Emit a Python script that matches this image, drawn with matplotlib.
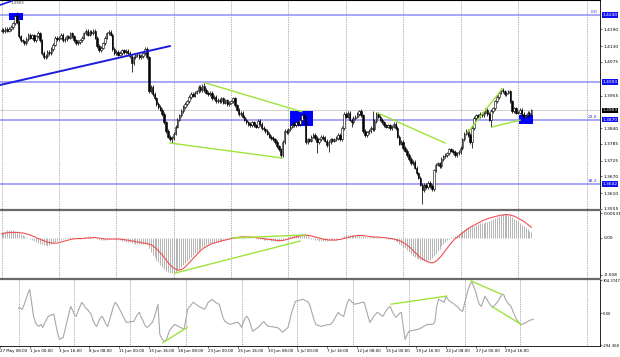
import numpy as np
import matplotlib.pyplot as plt

# GBPUSD H4 closes, 31 May - 3 Aug 2021, one row per trading day (6 bars)
first_bar = -6          # bar 0 = 1 Jun 00:00
first_open = 1.4185
closes = [
    1.4188, 1.4183, 1.4192, 1.4185, 1.4190, 1.4198,
    1.4210, 1.4235, 1.4215, 1.4165, 1.4150, 1.4147,
    1.4140, 1.4155, 1.4170, 1.4160, 1.4168, 1.4150,
    1.4165, 1.4175, 1.4150, 1.4105, 1.4090, 1.4095,
    1.4110, 1.4105, 1.4120, 1.4135, 1.4160, 1.4155,
    1.4160, 1.4170, 1.4150, 1.4155, 1.4165, 1.4160,
    1.4175, 1.4165, 1.4150, 1.4140, 1.4145, 1.4150,
    1.4160, 1.4175, 1.4185, 1.4170, 1.4180, 1.4175,
    1.4185, 1.4160, 1.4130, 1.4115, 1.4125, 1.4140,
    1.4160, 1.4175, 1.4180, 1.4170, 1.4120, 1.4105,
    1.4110, 1.4100, 1.4105, 1.4115, 1.4108, 1.4112,
    1.4105, 1.4095, 1.4070, 1.4090, 1.4100, 1.4098,
    1.4090, 1.4095, 1.4105, 1.4120, 1.4090, 1.3970,
    1.3985, 1.3960, 1.3945, 1.3925, 1.3915, 1.3905,
    1.3890, 1.3860, 1.3830, 1.3810, 1.3800, 1.3805,
    1.3820, 1.3845, 1.3870, 1.3885, 1.3900, 1.3915,
    1.3925, 1.3935, 1.3950, 1.3960, 1.3955, 1.3965,
    1.3970, 1.3985, 1.3975, 1.3990, 1.3975, 1.3965,
    1.3960, 1.3965, 1.3945, 1.3950, 1.3935, 1.3940,
    1.3935, 1.3945, 1.3930, 1.3938, 1.3925, 1.3930,
    1.3935, 1.3945, 1.3920, 1.3905, 1.3890, 1.3895,
    1.3880, 1.3870, 1.3860, 1.3855, 1.3850, 1.3860,
    1.3850, 1.3845, 1.3865, 1.3855, 1.3840, 1.3835,
    1.3830, 1.3820, 1.3810, 1.3805, 1.3800, 1.3790,
    1.3775, 1.3765, 1.3745, 1.3790, 1.3830, 1.3825,
    1.3835, 1.3845, 1.3855, 1.3850, 1.3860, 1.3855,
    1.3870, 1.3885, 1.3880, 1.3790, 1.3800, 1.3795,
    1.3810, 1.3815, 1.3805, 1.3790, 1.3800, 1.3810,
    1.3805, 1.3795, 1.3780, 1.3790, 1.3800, 1.3795,
    1.3800, 1.3805, 1.3815, 1.3800, 1.3840, 1.3890,
    1.3880, 1.3895, 1.3870, 1.3860, 1.3875, 1.3880,
    1.3890, 1.3900, 1.3885, 1.3830, 1.3815, 1.3825,
    1.3830, 1.3840, 1.3835, 1.3865, 1.3890, 1.3880,
    1.3870, 1.3860, 1.3850, 1.3845, 1.3850, 1.3840,
    1.3845, 1.3855, 1.3840, 1.3810, 1.3785, 1.3790,
    1.3770, 1.3760, 1.3745, 1.3730, 1.3715, 1.3720,
    1.3700, 1.3680, 1.3665, 1.3640, 1.3620, 1.3640,
    1.3630, 1.3645, 1.3635, 1.3625, 1.3690, 1.3710,
    1.3715, 1.3705, 1.3730, 1.3740, 1.3745, 1.3750,
    1.3765, 1.3760, 1.3755, 1.3745, 1.3750, 1.3755,
    1.3770, 1.3800, 1.3820, 1.3830, 1.3815, 1.3790,
    1.3840, 1.3875, 1.3885, 1.3880, 1.3890, 1.3885,
    1.3895, 1.3905, 1.3890, 1.3870, 1.3900, 1.3910,
    1.3935, 1.3950, 1.3965, 1.3975, 1.3970, 1.3960,
    1.3965, 1.3970, 1.3935, 1.3900, 1.3910, 1.3895,
    1.3895, 1.3905, 1.3890, 1.3880, 1.3885, 1.3895,
    1.3890, 1.3903,
]
wick = 0.0006
spike_high = {2: 1.4249, 13: 1.4185, 69: 1.4128, 100: 1.3998, 116: 1.3950,
              129: 1.3872, 152: 1.3895, 181: 1.3905, 188: 1.3900, 199: 1.3862,
              256: 1.3983}
spike_low = {62: 1.4040, 83: 1.3787, 140: 1.3733, 159: 1.3752, 165: 1.3755,
             177: 1.3845, 214: 1.3572, 240: 1.3768, 250: 1.3845}

# MACD main (histogram) and signal, in pips
macd_hist = [
    10, 12, 14, 15, 16, 16, 15, 14, 12, 10,
    8, 6, 4, 2, 0, -2, -4,
    -6, -8, -10, -11, -12, -13, -14, -15, -14, -12, -10, -8,
    -6, -4, -3, -2, -1, 0, 1, 2, 2, 1, 0, -1, -1, 0, 1, 2, 3, 3, 2, 1, 0, -1,
    -2, -3, -4, -4, -3, -2, -1, 0, -1, -2, -3,
    -4, -5, -6, -7, -8, -8, -9, -10, -11, -11, -12, -12, -12, -11,
    -14, -20, -27, -33, -38, -43, -48, -53, -57, -61, -64, -66, -68, -69,
    -68, -66, -63, -60, -57, -53, -49, -45, -41, -37, -33, -30, -27, -24, -21, -18,
    -16, -14, -12, -11, -10, -9, -8, -7, -6, -5, -4, -3, -2, -1,
    0, 1, 2, 2, 3, 3, 3, 2, 2, 1, 1, 0, 0, -1, -1, -2,
    -2, -3, -3, -4, -4, -5, -5, -6, -6, -6, -5, -4,
    -2, 0, 2, 3, 4, 5, 6, 6, 7, 7, 8, 6,
    3, 1, -1, -2, -3, -4, -5, -5, -5, -5, -5, -4, -4, -4,
    -3, -3, -2, 0, 2, 4, 5, 6, 6, 6, 6, 6, 6, 5, 4, 3, 2, 1,
    1, 1, 2, 2, 2, 1, 1, 0, 0, -1, -1, -2, -2, -3,
    -5, -8, -11, -14, -17, -20, -24, -28, -32, -35, -38, -40, -42, -43, -44, -45,
    -45, -44, -43, -40, -36, -31, -26, -21, -16, -12, -8, -4, -1, 1,
    2, 4, 6, 8, 10, 13, 16, 19, 21, 22, 23, 24, 26, 28, 29, 30, 30, 31, 32, 34,
    36, 38, 40, 42, 44, 46, 47, 47,
    47, 46, 44, 41, 38, 35, 32, 29, 26, 23, 20, 17, 14, 12,
]
macd_signal = [
    8, 9, 10, 10, 11, 11, 11, 11, 11, 11,
    10, 10, 9, 8, 7, 6, 4,
    3, 1, -1, -2, -4, -5, -7, -8, -9, -10, -10, -10,
    -10, -9, -8, -7, -6, -5, -4, -3, -2, -2, -1, -1, -1, -1, -1, 0, 0, 0, 0, 1, 1, 0,
    0, -1, -1, -2, -2, -2, -2, -2, -2, -2, -2,
    -2, -3, -3, -4, -4, -5, -6, -6, -7, -8, -8, -9, -10, -10,
    -11, -12, -13, -15, -18, -21, -25, -29, -33, -38, -43, -48, -52, -56,
    -59, -61, -63, -63, -62, -60, -57, -53, -49, -45, -41, -37, -33, -29, -25, -22,
    -19, -17, -15, -13, -11, -10, -9, -8, -7, -6, -5, -4, -3, -2,
    -1, 0, 0, 1, 1, 2, 2, 2, 2, 2, 2, 1, 1, 1, 0, 0,
    -1, -1, -2, -2, -3, -3, -4, -4, -5, -5, -5, -5,
    -4, -3, -2, -1, 0, 1, 2, 3, 4, 5, 5, 6,
    5, 5, 4, 3, 2, 1, 0, -1, -2, -3, -3, -4, -4, -4,
    -4, -4, -3, -3, -2, -1, 0, 1, 2, 3, 4, 4, 5, 5, 5, 5, 4, 4,
    3, 3, 2, 2, 2, 2, 1, 1, 1, 0, 0, -1, -1, -2,
    -3, -4, -5, -7, -9, -11, -14, -17, -20, -24, -28, -31, -35, -38, -41, -43,
    -45, -47, -48, -49, -48, -46, -43, -39, -35, -30, -25, -20, -15, -10,
    -6, -2, 1, 4, 7, 10, 13, 16, 19, 21, 23, 25, 27, 29, 31, 33, 35, 36, 38, 39,
    40, 41, 42, 43, 44, 45, 45, 46,
    46, 46, 45, 44, 43, 41, 39, 37, 35, 33, 30, 27, 24, 21,
]

# CCI oscillator, one row per trading day
cci = [
    50, 45, 37, 80, 130, 180,
    220, 100, -20, -83, -110, -120,
    -101, -129, -90, -60, -28, -20,
    -12, -9, -100, -180, -240, -230,
    -221, -150, -80, -9, 64, 30,
    -10, -28, 20, 60, 101, 80,
    50, 37, 15, -9, -60, -100,
    -120, -80, -40, -28, -60, -100,
    -120, -60, 0, 60, 101, 80,
    50, 18, -20, -50, -83, -80,
    -78, -76, -74, -40, -10, 9,
    -37, -70, -110, -129, -120, -100,
    -83, -40, 20, 83, -193, -230,
    -250, -258, -220, -166, -140, -120,
    -101, -110, -120, -129, -138, -147,
    -60, 37, 60, 80, 101, 90,
    75, 64, 55, 45, 37, 60,
    101, 110, 129, 115, 100, 90,
    83, 20, -40, -74, -85, -95,
    -101, -95, -90, -85, -83, -100,
    -129, -80, -40, -28, -60, -110,
    -166, -150, -140, -129, -110, -90,
    -74, -100, -115, -120, -122, -125,
    -128, -129, -140, -155, -175, -160,
    -145, -129, -60, 9, 60, 110,
    115, 120, 125, 129, 120, 110,
    101, 60, 0, -60, -101, -110,
    -115, -120, -115, -110, -105, -103,
    -101, -80, -50, -20, 9, -10,
    -20, -28, 40, 101, 129, 110,
    95, 83, 88, 92, 96, 101,
    101, 40, -20, -83, -60, -30,
    -10, 9, 0, -15, -28, 0,
    30, 50, 64, 20, -10, -37,
    -20, 0, 9, -120, -240, -200,
    -166, -160, -158, -155, -150, -147,
    -140, -130, -120, -110, -101, -101,
    -101, -101, -83, 60, 129, 120,
    110, 101, 156, 130, 110, 101,
    90, 75, 64, 45, 25, 18,
    90, 156, 220, 270, 285, 240,
    200, 130, 80, 64, 110, 156,
    129, 100, 75, 55, 70, 90,
    110, 140, 170, 175, 130, 101,
    80, 64, 20, -20, -55, -80,
    -95, -101, -95, -83, -75, -65,
    -60, -55,
]

# horizontal levels
levels = [1.4240, 1.4003, 1.3870, 1.3642]
fib_labels = {1.4240: "0.0", 1.3870: "23.6", 1.3642: "38.2"}
bid = 1.3903
price_ticks = [1.4190, 1.4130, 1.4075, 1.3955, 1.3840, 1.3785, 1.3725,
               1.3670, 1.3610, 1.3555]

# x labels every 16 bars
xtick_bars = list(range(-16, 257, 16))
xtick_labels = ["27 May 08:00", "1 Jun 00:00", "3 Jun 16:00", "8 Jun 08:00",
                "11 Jun 00:00", "15 Jun 16:00", "18 Jun 08:00", "23 Jun 00:00",
                "25 Jun 16:00", "30 Jun 08:00", "5 Jul 00:00", "7 Jul 16:00",
                "12 Jul 08:00", "15 Jul 00:00", "19 Jul 16:00", "22 Jul 08:00",
                "27 Jul 00:00", "29 Jul 16:00"]
grid_bars = [-6, 24, 54, 84, 114, 144, 174, 204, 234, 264, 300]

# drawn objects (bar index, value)
trend_blue = ([-7, 82], [1.3992, 1.4130])
stub_blue = ([-7, -0.5], [1.4275, 1.4290])
green_main = [([100.4, 150.9], [1.4000, 1.3898]),
              ([82.1, 140.7], [1.3787, 1.3734]),
              ([190.8, 225.9], [1.3893, 1.3787]),
              ([237.9, 255.7], [1.3826, 1.3978]),
              ([250.5, 265.1], [1.3844, 1.3868])]
green_macd = [([84.7, 150.1], [-69, -6]),
              ([114.5, 152.7], [0, 6])]
green_cci = [([71.6, 84.7], [-270, -130]),
             ([194.5, 224.3], [84, 158]),
             ([237.4, 253.6], [298, 177]),
             ([249.4, 264.6], [56, -103])]
boxes = [(-2.1, 5.2, 1.4222, 1.4247),
         (144.8, 156.9, 1.3847, 1.3900),
         (264.6, 272.0, 1.3854, 1.3886)]

W, H = 620, 357
fig = plt.figure(figsize=(W / 100, H / 100), dpi=100)
fig.patch.set_facecolor("white")
pw = 600 / W
ax = fig.add_axes([0, 1 - 210 / H, pw, 210 / H])
axm = fig.add_axes([0, 1 - 279 / H, pw, 69 / H])
axc = fig.add_axes([0, 1 - 346 / H, pw, 67 / H])

xlim = (-6.8, 306.9)
lab = 3.2
GREEN = "#9ee33a"
LEV = "#8f8ff7"

for a in (ax, axm, axc):
    a.set_xlim(*xlim)
    a.yaxis.tick_right()
    a.tick_params(axis="y", length=1.5, width=0.4, labelsize=lab, pad=1)
    a.spines["left"].set_visible(False)
    a.spines["right"].set_linewidth(0.6)
    for b in grid_bars:
        a.axvline(b, color="#666666", lw=0.5, ls=(0, (1, 1.5)), zorder=0)

# ---- price panel
n = len(closes)
x = np.arange(n) + first_bar
c = np.array(closes)
o = np.r_[first_open, c[:-1]]
hi = np.maximum(o, c) + wick
lo = np.minimum(o, c) - wick
for k, v in spike_high.items():
    hi[k - first_bar] = v
for k, v in spike_low.items():
    lo[k - first_bar] = v

ax.set_ylim(1.35500, 1.42931)
for lv in levels:
    ax.axhline(lv, color=LEV, lw=1.1, zorder=1)
ax.axhline(bid, color="#c8c8c8", lw=0.6, zorder=1)
ax.plot(*trend_blue, color="#1c1cdc", lw=1.4, zorder=4)
ax.plot(*stub_blue, color="#1c1cdc", lw=1.2, zorder=4)
for bx0, bx1, by0, by1 in boxes:
    ax.fill_between([bx0, bx1], by0, by1, color="#0000ff", lw=0, zorder=2)

ax.vlines(x, lo, hi, color="black", lw=0.55, zorder=3)
up = c >= o
ax.bar(x[up], c[up] - o[up], bottom=o[up], width=0.75, color="white",
       edgecolor="black", lw=0.4, zorder=3)
ax.bar(x[~up], o[~up] - c[~up], bottom=c[~up], width=0.75, color="black",
       edgecolor="black", lw=0.4, zorder=3)
for gx, gy in green_main:
    ax.plot(gx, gy, color=GREEN, lw=1.0, zorder=5)

ax.set_yticks(price_ticks)
ax.set_yticklabels(["%.4f" % v for v in price_ticks])
yt = ax.get_yaxis_transform()
for lv in levels:
    ax.text(1.004, lv, "%.4f" % lv, transform=yt, fontsize=lab, color="white",
            va="center", ha="left",
            bbox=dict(boxstyle="square,pad=0.12", fc="#1010f0", ec="none"))
ax.text(1.004, bid, "%.4f" % bid, transform=yt, fontsize=lab, color="white",
        va="center", ha="left",
        bbox=dict(boxstyle="square,pad=0.12", fc="black", ec="none"))
for lv, t in fib_labels.items():
    ax.text(305.5, lv + 0.0002, t, fontsize=lab, color="#3030e0",
            ha="right", va="bottom")
ax.text(-1.5, 1.4282, "1.3903", fontsize=2.8, color="#333333", va="center")
ax.set_xticks([])
ax.spines["bottom"].set_visible(False)

# ---- MACD panel
xm = np.arange(len(macd_hist)) + first_bar
mh = np.array(macd_hist) / 10000
ms = np.array(macd_signal) / 10000
axm.set_ylim(-0.008063, 0.005506)
axm.vlines(xm, 0, mh, color="#a8a8a8", lw=0.6, zorder=2)
axm.plot(xm, ms, color="#f05050", lw=0.8, zorder=3)
for gx, gy in green_macd:
    axm.plot(gx, np.array(gy) / 10000, color=GREEN, lw=1.0, zorder=4)
axm.set_yticks([0.0049, 0.0, -0.0072])
axm.set_yticklabels(["0.00531", "0.00", "-0.008"])
axm.set_xticks([])
axm.spines["top"].set_color("#6a6a6a")
axm.spines["top"].set_linewidth(1.6)
axm.spines["bottom"].set_visible(False)

# ---- CCI panel
xc = np.arange(len(cci)) + first_bar
axc.set_ylim(-300, 315)
axc.plot(xc, cci, color="#a8a8a8", lw=0.8, zorder=2)
for gx, gy in green_cci:
    axc.plot(gx, gy, color=GREEN, lw=1.0, zorder=4)
axc.set_yticks([304.3747, 0, -294.368])
axc.set_yticklabels(["304.3747", "0.00", "-294.368"])
axc.tick_params(axis="y", labelsize=2.7, pad=0.6)
axc.spines["top"].set_color("#6a6a6a")
axc.spines["top"].set_linewidth(1.6)
axc.spines["bottom"].set_linewidth(0.6)
axc.set_xticks(xtick_bars)
axc.set_xticklabels(xtick_labels, fontsize=2.9, ha="left")
axc.tick_params(axis="x", length=1.5, width=0.4, pad=1)

fig.savefig("out.png", dpi=100)
